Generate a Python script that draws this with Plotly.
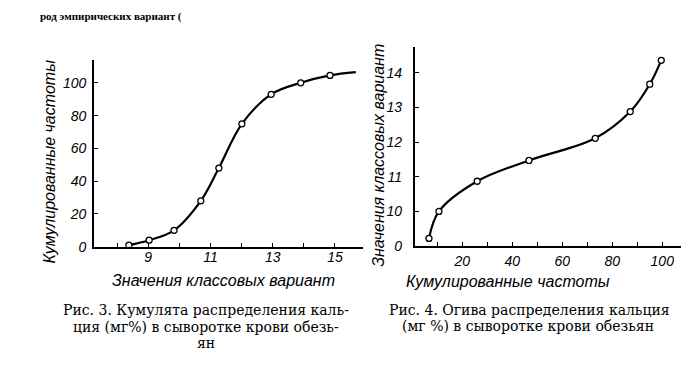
import plotly.graph_objects as go

# ---- Рис. 3: кумулята ----
cum_x = [8.38, 9.03, 9.83, 10.69, 11.27, 12.01, 12.95, 13.9, 14.84]
cum_y = [1, 4, 10, 28, 48, 75, 93, 100, 104.5]
cum_tail_x = [15.67]
cum_tail_y = [106.5]
cum_xticks = [8, 9, 10, 11, 12, 13, 14, 15]
cum_xtick_text = ["", "9", "", "11", "", "13", "", "15"]
cum_yticks = [0, 20, 40, 60, 80, 100]

# ---- Рис. 4: огива (ось Y с разрывом: нижняя метка «0») ----
og_x = [6.7, 10.7, 26, 46.7, 73.2, 87.2, 95, 99.6]
og_y = [9.22, 10.0, 10.87, 11.47, 12.11, 12.88, 13.67, 14.36]
og_xticks = [10, 20, 30, 40, 50, 60, 70, 80, 90, 100]
og_xtick_text = ["", "20", "", "40", "", "60", "", "80", "", "100"]
og_yticks = [9, 10, 11, 12, 13, 14]
og_ytick_text = ["0", "10", "11", "12", "13", "14"]

W, H = 691, 372
def px(x):
    return x / W
def py(y):
    return 1 - y / H

tickfont = dict(family="Liberation Sans", size=14, color="black", style="italic")
ax_common = dict(showline=True, linecolor="black", linewidth=1.6, showgrid=False,
                 zeroline=False, ticks="inside", ticklen=4, tickcolor="black",
                 tickwidth=1.3, tickfont=tickfont)

fig = go.Figure()
fig.add_trace(go.Scatter(x=cum_x + cum_tail_x, y=cum_y + cum_tail_y, mode="lines",
                         line=dict(color="black", width=2.2, shape="spline", smoothing=1.0),
                         xaxis="x", yaxis="y", hoverinfo="skip", showlegend=False))
fig.add_trace(go.Scatter(x=cum_x, y=cum_y, mode="markers",
                         marker=dict(symbol="circle", size=6, color="white",
                                     line=dict(color="black", width=1.3)),
                         xaxis="x", yaxis="y", showlegend=False))
fig.add_trace(go.Scatter(x=og_x, y=og_y, mode="lines",
                         line=dict(color="black", width=2.2, shape="spline", smoothing=1.0),
                         xaxis="x2", yaxis="y2", hoverinfo="skip", showlegend=False))
fig.add_trace(go.Scatter(x=og_x, y=og_y, mode="markers",
                         marker=dict(symbol="circle", size=6, color="white",
                                     line=dict(color="black", width=1.3)),
                         xaxis="x2", yaxis="y2", showlegend=False))

fig.update_layout(
    width=W, height=H, margin=dict(l=0, r=0, t=0, b=0),
    paper_bgcolor="white", plot_bgcolor="white",
    xaxis=dict(ax_common, domain=[px(86), px(355)], range=[7.26, 15.9],
               tickvals=cum_xticks, ticktext=cum_xtick_text, anchor="y",
               ticklabelstandoff=-3),
    yaxis=dict(ax_common, domain=[py(244), py(53)], range=[0, 114],
               tickvals=cum_yticks, anchor="x", ticklabelstandoff=3),
    xaxis2=dict(ax_common, domain=[px(406.7), px(673)], range=[1, 107.5],
                tickvals=og_xticks, ticktext=og_xtick_text, anchor="y2",
                ticklabelstandoff=1),
    yaxis2=dict(ax_common, domain=[py(243.3), py(40)], range=[9, 14.74],
                tickvals=og_yticks, ticktext=og_ytick_text, anchor="x2",
                ticklabelstandoff=8),
)

titlefont = dict(family="Liberation Sans", size=16, color="black", style="italic")
capfont = dict(family="DejaVu Serif", size=14, color="black")
ann = [
    dict(text="Кумулированные частоты", x=px(42), y=py(157), textangle=-90, font=titlefont),
    dict(text="Значения классовых вариант", x=px(216), y=py(278), font=titlefont),
    dict(text="Значения классовых вариант", x=px(371), y=py(151), textangle=-90, font=titlefont),
    dict(text="Кумулированные частоты", x=px(500), y=py(280), font=titlefont),
    dict(text="Рис. 3. Кумулята распределения каль-", x=px(197.5), y=py(309), font=capfont),
    dict(text="ция (мг%) в сыворотке крови обезь-", x=px(197.5), y=py(326), font=capfont),
    dict(text="ян", x=px(198), y=py(342), font=capfont),
    dict(text="Рис. 4. Огива распределения кальция", x=px(521.5), y=py(309), font=capfont),
    dict(text="(мг %) в сыворотке крови обезьян", x=px(520), y=py(325), font=capfont),
    dict(text="род эмпирических вариант (", x=px(30), y=py(0), xanchor="left", yanchor="top",
         font=dict(family="Liberation Serif", size=11, color="black", weight="bold")),
]
for a in ann:
    a.setdefault("xanchor", "center")
    a.setdefault("yanchor", "middle")
    a.update(xref="paper", yref="paper", showarrow=False)
fig.update_layout(annotations=ann)

fig.write_html("out.html")
